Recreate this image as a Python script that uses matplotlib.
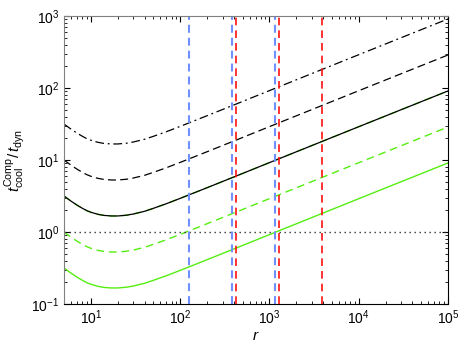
import numpy as np
import matplotlib
matplotlib.use('Agg')
import matplotlib.pyplot as plt

plt.rcParams['font.family'] = ['Liberation Sans', 'DejaVu Sans']
plt.rcParams['mathtext.fontset'] = 'custom'
plt.rcParams['mathtext.rm'] = 'Liberation Sans'
plt.rcParams['mathtext.it'] = 'Liberation Sans:italic'
plt.rcParams['mathtext.bf'] = 'Liberation Sans:bold'

# base profile of t_cool/t_dyn (solid black curve)
r_pts = [5, 6, 7, 8, 9, 10, 12, 14, 17, 20, 25, 30, 40, 50, 70, 100, 200,
         500, 1e3, 1e4, 1e5]
ratio_pts = [3.16, 2.68, 2.36, 2.14, 1.98, 1.88, 1.76, 1.70, 1.67, 1.67,
             1.71, 1.78, 1.94, 2.13, 2.47, 2.93, 4.12, 6.5, 9.2, 29.0, 91.0]

# normalisation of each curve relative to the base profile
black_levels = [10.0, 3.16, 1.0]
green_levels = [1.0, 0.316, 0.1]

# radii marked by vertical lines
r_blue = [125, 384, 1164]
r_red = [419, 1270, 3846]

fig = plt.figure(figsize=(4.63, 3.45), dpi=100)
ax = fig.add_axes([64/463, 41/345, 384/463, 288/345])

r_pts = np.array(r_pts)
ratio_pts = np.array(ratio_pts)

green = '#55ee11'
ax.plot(r_pts, ratio_pts*green_levels[0], color=green, lw=1.0, ls=(0, (5.5, 3.5)))
ax.plot(r_pts, ratio_pts*green_levels[1], color=green, lw=1.0, ls=(0, (5.5, 3.5)))
ax.plot(r_pts, ratio_pts*green_levels[2], color=green, lw=1.0, ls='-')

ax.plot(r_pts, ratio_pts*black_levels[0], color='k', lw=0.9, ls=(0, (7, 3, 1.5, 3)))
ax.plot(r_pts, ratio_pts*black_levels[1], color='k', lw=0.9, ls=(0, (6.4, 3.4)))
ax.plot(r_pts, ratio_pts*black_levels[2], color='k', lw=0.9, ls='-')

ax.axhline(1.0, color='#333333', lw=1.0, ls=(0, (1, 2.6)))

for rv in r_blue:
    ax.axvline(rv, color='#7090ff', lw=1.5, ls=(0, (3.8, 2.4)))
for rv in r_red:
    ax.axvline(rv, color='#ff1010', lw=1.2, ls=(0, (4.6, 3.0)))

ax.set_xscale('log')
ax.set_yscale('log')
ax.set_xlim(5, 1e5)
ax.set_ylim(0.1, 1e3)

ax.tick_params(which='both', direction='in', top=True, right=True, labelsize=10)
ax.tick_params(which='major', length=4)
ax.tick_params(which='minor', length=2.5)
for s in ['top', 'left']:
    ax.spines[s].set_color('#808080')
for s in ['bottom', 'right']:
    ax.spines[s].set_color('k')

ax.set_xlabel(r'$r$', fontsize=11, labelpad=1)
ax.set_ylabel(r'$t_{\rm cool}^{\rm Comp}/\,t_{\rm dyn}$', fontsize=11, labelpad=2)

fig.savefig('out.png', dpi=100)
